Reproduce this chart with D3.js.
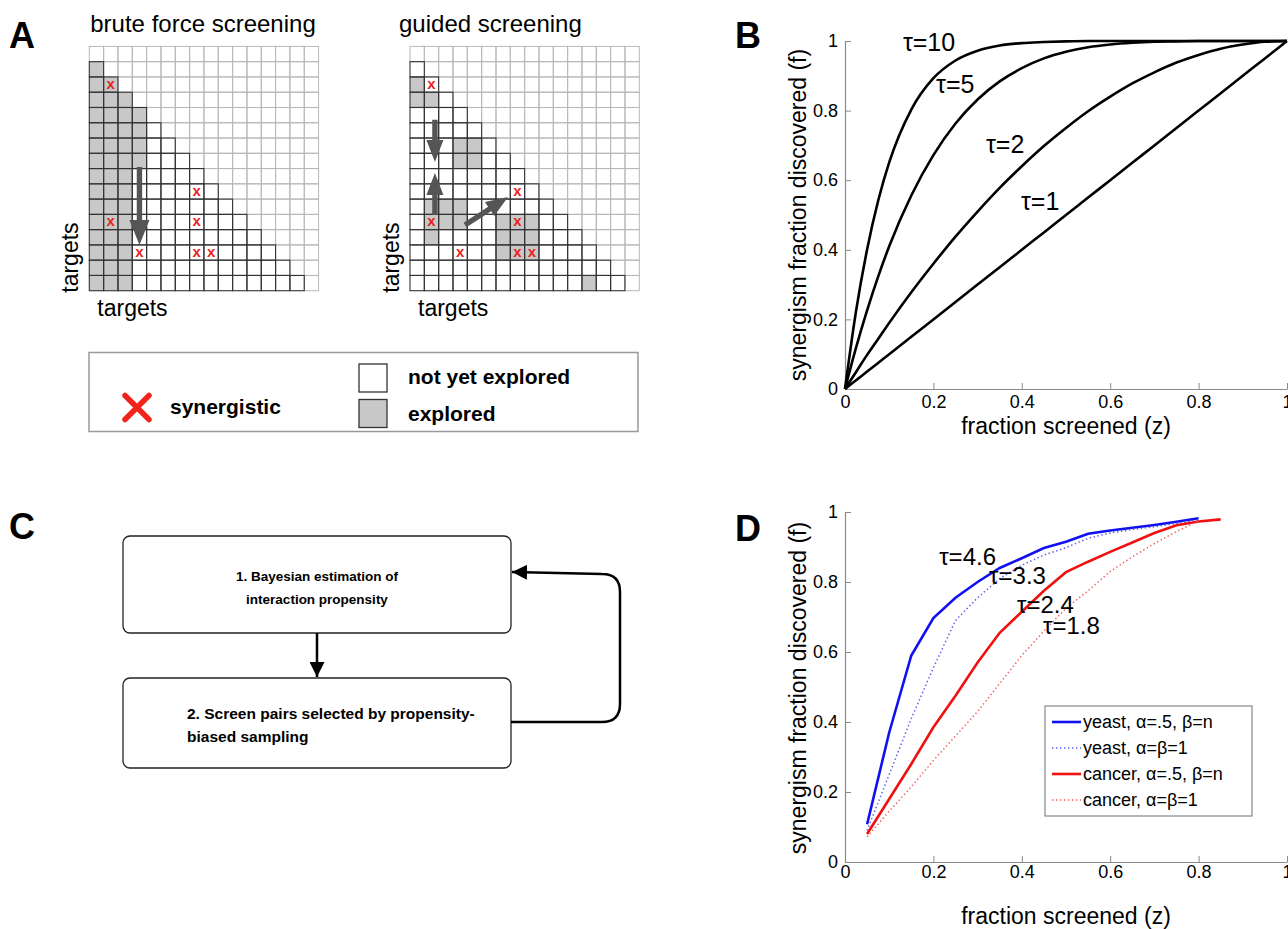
<!DOCTYPE html>
<html>
<head>
<meta charset="utf-8">
<script src="https://cdn.jsdelivr.net/npm/d3@7"></script>
<style>
  body { margin: 0; background: #fff; }
  svg { font-family: "Liberation Sans", Arial, Helvetica, sans-serif; }
</style>
</head>
<body>
<svg id="fig" width="1288" height="929"></svg>
<script>
// ---------------- data ----------------
// panel A : 16x16 target grid, cells are [row, col]
const gridN = 16;
const synergisticCells = [[2, 1], [9, 7], [11, 1], [11, 7], [13, 3], [13, 7], [13, 8]];
// explored runs: [col, fromRow, toRow]
const bruteExplored = [[0, 1, 15], [1, 2, 15], [2, 3, 15], [3, 4, 7]];
const guidedExplored = [[0, 2, 3], [1, 3, 3], [3, 6, 7], [4, 6, 7], [1, 10, 12], [2, 10, 11], [3, 10, 11],
  [6, 11, 13], [7, 11, 13], [8, 11, 13], [12, 15, 15]];
// arrows in grid units: [col0, row0, col1, row1] (tip at col1,row1)
const bruteArrows = [[3.5, 7.9, 3.5, 13.0]];
const guidedArrows = [[1.74, 4.8, 1.74, 7.57], [1.74, 11.04, 1.74, 8.29], [3.84, 11.7, 6.84, 9.86]];
const legendA = ["synergistic", "not yet explored", "explored"];

// panel B : f vs z for several tau
const zB = [0, 0.025, 0.05, 0.075, 0.1, 0.15, 0.2, 0.25, 0.3, 0.35, 0.4, 0.45, 0.5, 0.55, 0.6, 0.65, 0.7, 0.75, 0.8, 0.85, 0.9, 0.95, 1];
const fTau1 = [0, 0.025, 0.05, 0.075, 0.1, 0.15, 0.2, 0.25, 0.3, 0.35, 0.4, 0.45, 0.5, 0.55, 0.6, 0.65, 0.7, 0.75, 0.8, 0.85, 0.9, 0.95, 1];
const fTau2 = [0, 0.049, 0.098, 0.144, 0.19, 0.278, 0.36, 0.438, 0.51, 0.578, 0.64, 0.698, 0.75, 0.798, 0.84, 0.878, 0.91, 0.938, 0.96, 0.978, 0.99, 0.998, 1];
const fTau5 = [0, 0.119, 0.226, 0.323, 0.41, 0.556, 0.672, 0.763, 0.832, 0.884, 0.922, 0.95, 0.969, 0.982, 0.99, 0.995, 0.998, 0.999, 1, 1, 1, 1, 1];
const fTau10 = [0, 0.224, 0.401, 0.541, 0.651, 0.803, 0.893, 0.944, 0.972, 0.987, 0.994, 0.997, 0.999, 1, 1, 1, 1, 1, 1, 1, 1, 1, 1];
const tauLabelsB = ["τ=10", "τ=5", "τ=2", "τ=1"];
const tauLabelPosB = [[0.131, 0.971], [0.206, 0.851], [0.319, 0.678], [0.398, 0.514]];

// panel D : measured curves
const zYeast = [0.05, 0.1, 0.15, 0.2, 0.25, 0.3, 0.35, 0.4, 0.45, 0.5, 0.55, 0.6, 0.65, 0.7, 0.75, 0.8];
const fYeastHalf = [0.108, 0.37, 0.59, 0.697, 0.755, 0.80, 0.84, 0.868, 0.897, 0.915, 0.938, 0.947, 0.955, 0.963, 0.972, 0.982];
const fYeastOne = [0.09, 0.25, 0.41, 0.555, 0.69, 0.755, 0.81, 0.848, 0.877, 0.898, 0.925, 0.94, 0.95, 0.958, 0.967, 0.977];
const zCancerHalf = [0.05, 0.1, 0.15, 0.2, 0.25, 0.3, 0.35, 0.4, 0.45, 0.5, 0.55, 0.6, 0.65, 0.7, 0.75, 0.8, 0.85];
const fCancerHalf = [0.08, 0.18, 0.28, 0.385, 0.475, 0.57, 0.655, 0.715, 0.775, 0.828, 0.858, 0.886, 0.913, 0.94, 0.962, 0.973, 0.979];
const zCancerOne = [0.05, 0.1, 0.15, 0.2, 0.25, 0.3, 0.35, 0.4, 0.45, 0.5, 0.55, 0.6, 0.65, 0.7, 0.75, 0.8];
const fCancerOne = [0.072, 0.145, 0.215, 0.29, 0.36, 0.43, 0.51, 0.59, 0.66, 0.725, 0.775, 0.83, 0.872, 0.91, 0.944, 0.975];
const legendD = ["yeast, α=.5, β=n", "yeast, α=β=1", "cancer, α=.5, β=n", "cancer, α=β=1"];
const tauLabelsD = ["τ=4.6", "τ=3.3", "τ=2.4", "τ=1.8"];
const tauLabelPosD = [[0.213, 0.849], [0.326, 0.794], [0.389, 0.711], [0.448, 0.652]];

const tickVals = [0, 0.2, 0.4, 0.6, 0.8, 1];

// ---------------- drawing ----------------
const svg = d3.select("#fig");
const gray = "#c8c8c8";
const red = "#e8231b";

// panel letters
svg.selectAll(".panel-letter")
  .data([["A", 9, 48], ["B", 735, 48], ["C", 9, 539], ["D", 735, 541]])
  .join("text")
  .attr("class", "panel-letter")
  .attr("x", d => d[1]).attr("y", d => d[2])
  .attr("font-size", 36).attr("font-weight", "bold")
  .text(d => d[0]);

// arrow polygon (shaft + head)
function arrowPoints(x0, y0, x1, y1, sw, hl, hw) {
  const len = Math.hypot(x1 - x0, y1 - y0);
  const ux = (x1 - x0) / len, uy = (y1 - y0) / len;
  const nx = -uy, ny = ux;
  const bx = x1 - ux * hl, by = y1 - uy * hl;
  return [
    [x0 + nx * sw, y0 + ny * sw], [bx + nx * sw, by + ny * sw], [bx + nx * hw, by + ny * hw],
    [x1, y1],
    [bx - nx * hw, by - ny * hw], [bx - nx * sw, by - ny * sw], [x0 - nx * sw, y0 - ny * sw]
  ].map(p => p.join(",")).join(" ");
}

//---- panel A grids ----
const gridTop = 46.4, cellW = 14.33, cellH = 15.27;

function drawGrid(left, title, titleX, titleAnchor, explored, arrows, headLen, headW) {
  const g = svg.append("g");
  const x = d3.scaleLinear().domain([0, gridN]).range([left, left + gridN * cellW]);
  const y = d3.scaleLinear().domain([0, gridN]).range([gridTop, gridTop + gridN * cellH]);

  // explored cells -> list of [row, col]
  const grayCells = [];
  explored.forEach(([c, r0, r1]) => {
    for (let r = r0; r <= r1; r++) grayCells.push([r, c]);
  });
  g.selectAll(".explored").data(grayCells).join("rect")
    .attr("x", d => x(d[1])).attr("y", d => y(d[0]))
    .attr("width", cellW).attr("height", cellH)
    .attr("fill", gray);

  // light grid (upper part incl. diagonal)
  const all = d3.cross(d3.range(gridN), d3.range(gridN));
  g.selectAll(".light").data(all.filter(d => d[1] >= d[0])).join("rect")
    .attr("x", d => x(d[1])).attr("y", d => y(d[0]))
    .attr("width", cellW).attr("height", cellH)
    .attr("fill", "none").attr("stroke", "#b8b8b8").attr("stroke-width", 1);
  // dark outlines for the lower triangle
  g.selectAll(".dark").data(all.filter(d => d[1] < d[0])).join("rect")
    .attr("x", d => x(d[1])).attr("y", d => y(d[0]))
    .attr("width", cellW).attr("height", cellH)
    .attr("fill", "none").attr("stroke", "#333").attr("stroke-width", 1.1);

  // synergistic pairs
  g.selectAll(".hit").data(synergisticCells).join("text")
    .attr("x", d => x(d[1] + 0.5)).attr("y", d => y(d[0] + 0.5))
    .attr("dy", "0.28em").attr("text-anchor", "middle")
    .attr("font-size", 15).attr("font-weight", "bold").attr("fill", red)
    .text("x");

  // arrows
  g.selectAll(".arrow").data(arrows).join("polygon")
    .attr("points", d => arrowPoints(x(d[0]), y(d[1]), x(d[2]), y(d[3]), 2.7, headLen, headW))
    .attr("fill", "#555");

  // labels
  g.append("text").attr("x", titleX).attr("y", 32)
    .attr("text-anchor", titleAnchor).attr("font-size", 24).text(title);
  g.append("text").attr("x", left + 8).attr("y", 316).attr("font-size", 23).text("targets");
  g.append("text").attr("transform", `translate(${left - 11},${gridTop + gridN * cellH + 2}) rotate(-90)`)
    .attr("font-size", 23).text("targets");
}

drawGrid(89.3, "brute force screening", 203, "middle", bruteExplored, bruteArrows, 25, 10);
drawGrid(410, "guided screening", 399, "start", guidedExplored, guidedArrows, 22, 8.5);

// legend A
const legA = svg.append("g");
legA.append("rect").attr("x", 89).attr("y", 352.5).attr("width", 549).attr("height", 79)
  .attr("fill", "#fff").attr("stroke", "#999").attr("stroke-width", 1.5);
legA.append("path").attr("d", "M125,395.5 L149,419.5 M149,395.5 L125,419.5")
  .attr("stroke", "#f2231a").attr("stroke-width", 5.5).attr("stroke-linecap", "round");
legA.append("text").attr("x", 170).attr("y", 414).attr("font-size", 21).attr("font-weight", "bold").text(legendA[0]);
legA.selectAll(".sw").data([["#fff", 364], [gray, 399.5]]).join("rect")
  .attr("x", 359).attr("y", d => d[1]).attr("width", 28).attr("height", 28)
  .attr("fill", d => d[0]).attr("stroke", "#333").attr("stroke-width", 1.3);
legA.append("text").attr("x", 408).attr("y", 384).attr("font-size", 21).attr("font-weight", "bold").text(legendA[1]);
legA.append("text").attr("x", 408).attr("y", 421).attr("font-size", 21).attr("font-weight", "bold").text(legendA[2]);

//---- axes helper for B and D ----
function drawAxes(g, x, y, xPad, yLabelY, xLabelY) {
  const fmt = d => (d === 0 ? "0" : d === 1 ? "1" : d3.format(".1f")(d));
  const xa = g.append("g").attr("transform", `translate(0,${y(0)})`)
    .call(d3.axisBottom(x).tickValues(tickVals).tickFormat(fmt).tickSizeInner(-6).tickSizeOuter(0).tickPadding(xPad));
  const ya = g.append("g").attr("transform", `translate(${x(0)},0)`)
    .call(d3.axisLeft(y).tickValues(tickVals).tickFormat(fmt).tickSizeInner(-6).tickSizeOuter(0).tickPadding(7));
  [xa, ya].forEach(a => {
    a.select(".domain").attr("stroke", "#8a8a8a").attr("stroke-width", 1.2);
    a.selectAll(".tick line").attr("stroke", "#8a8a8a");
    a.selectAll(".tick text").attr("font-size", 18).attr("fill", "#000")
      .attr("font-family", "Liberation Sans, Arial, sans-serif");
  });
  g.append("text").attr("transform", `translate(806,${yLabelY}) rotate(-90)`)
    .attr("text-anchor", "middle").attr("font-size", 23).text("synergism fraction discovered (f)");
  g.append("text").attr("x", (x(0) + x(1)) / 2).attr("y", xLabelY)
    .attr("text-anchor", "middle").attr("font-size", 23).text("fraction screened (z)");
}

//---- panel B ----
const gB = svg.append("g");
const xB = d3.scaleLinear().domain([0, 1]).range([845, 1287]);
const yB = d3.scaleLinear().domain([0, 1]).range([389, 41]);
drawAxes(gB, xB, yB, 6, 215, 434);

const lineB = d3.line().x(d => xB(d[0])).y(d => yB(d[1])).curve(d3.curveMonotoneX);
[fTau10, fTau5, fTau2, fTau1].forEach(f => {
  gB.append("path").attr("d", lineB(zB.map((z, i) => [z, f[i]])))
    .attr("fill", "none").attr("stroke", "#000").attr("stroke-width", 2.6);
});
gB.selectAll(".tauB").data(tauLabelsB).join("text")
  .attr("x", (d, i) => xB(tauLabelPosB[i][0])).attr("y", (d, i) => yB(tauLabelPosB[i][1]))
  .attr("font-size", 25).text(d => d);

//---- panel D ----
const gD = svg.append("g");
const xD = d3.scaleLinear().domain([0, 1]).range([845, 1287]);
const yD = d3.scaleLinear().domain([0, 1]).range([862, 512]);
drawAxes(gD, xD, yD, 3, 688, 924);

const seriesD = [
  { z: zYeast, f: fYeastHalf, color: "#1010f0", dash: null, w: 2.6 },
  { z: zYeast, f: fYeastOne, color: "#5a5af0", dash: "1.4,2.6", w: 1.5 },
  { z: zCancerHalf, f: fCancerHalf, color: "#f01010", dash: null, w: 2.6 },
  { z: zCancerOne, f: fCancerOne, color: "#f06060", dash: "1.4,2.6", w: 1.5 }
];
const lineD = d3.line().x(d => xD(d[0])).y(d => yD(d[1]));
seriesD.forEach(s => {
  gD.append("path").attr("d", lineD(s.z.map((z, i) => [z, s.f[i]])))
    .attr("fill", "none").attr("stroke", s.color).attr("stroke-width", s.w)
    .attr("stroke-dasharray", s.dash);
});
gD.selectAll(".tauD").data(tauLabelsD).join("text")
  .attr("x", (d, i) => xD(tauLabelPosD[i][0])).attr("y", (d, i) => yD(tauLabelPosD[i][1]))
  .attr("font-size", 24).text(d => d);

// legend D
const legD = gD.append("g");
legD.append("rect").attr("x", 1045).attr("y", 706).attr("width", 207).attr("height", 110)
  .attr("fill", "#fff").attr("stroke", "#888").attr("stroke-width", 1.2);
legD.selectAll(".ll").data(seriesD).join("line")
  .attr("x1", 1052).attr("x2", 1081)
  .attr("y1", (d, i) => 722 + i * 26).attr("y2", (d, i) => 722 + i * 26)
  .attr("stroke", d => d.color).attr("stroke-width", d => d.w).attr("stroke-dasharray", d => d.dash);
legD.selectAll(".lt").data(legendD).join("text")
  .attr("x", 1083).attr("y", (d, i) => 722 + i * 26).attr("dy", "0.35em")
  .attr("font-size", 18).text(d => d);

//---- panel C : flow chart ----
const gC = svg.append("g");
const boxX = 123, boxW = 388, boxCx = boxX + boxW / 2;
const boxes = [
  { y: 536, h: 97, lines: ["1. Bayesian estimation of", "interaction propensity"], size: 13.5, x: null },
  { y: 678, h: 90, lines: ["2. Screen pairs selected by propensity-", "biased sampling"], size: 15.5, x: 187 }
];
boxes.forEach(b => {
  gC.append("rect").attr("x", boxX).attr("y", b.y).attr("width", boxW).attr("height", b.h)
    .attr("rx", 7).attr("fill", "#fff").attr("stroke", "#222").attr("stroke-width", 1.3);
  b.lines.forEach((line, i) => {
    const t = gC.append("text").attr("y", b.y + b.h / 2 - 4 + i * 23)
      .attr("font-size", b.size).attr("font-weight", "bold").text(line);
    if (b.x === null) t.attr("x", boxCx).attr("text-anchor", "middle");
    else t.attr("x", b.x);
  });
});

// arrowheads
svg.append("defs").append("marker")
  .attr("id", "head").attr("viewBox", "0 0 10 10").attr("refX", 10).attr("refY", 5)
  .attr("markerWidth", 6).attr("markerHeight", 6).attr("markerUnits", "strokeWidth").attr("orient", "auto")
  .append("path").attr("d", "M0,0 L10,5 L0,10 Z").attr("fill", "#000");

gC.append("path").attr("d", `M${boxCx},633 L${boxCx},677`)
  .attr("stroke", "#000").attr("stroke-width", 2.5).attr("fill", "none").attr("marker-end", "url(#head)");
gC.append("path")
  .attr("d", "M511,722 L602,722 Q620,722 620,704 L620,592 Q620,574 602,574 L512,572")
  .attr("stroke", "#000").attr("stroke-width", 2.5).attr("fill", "none").attr("marker-end", "url(#head)");
</script>
</body>
</html>
